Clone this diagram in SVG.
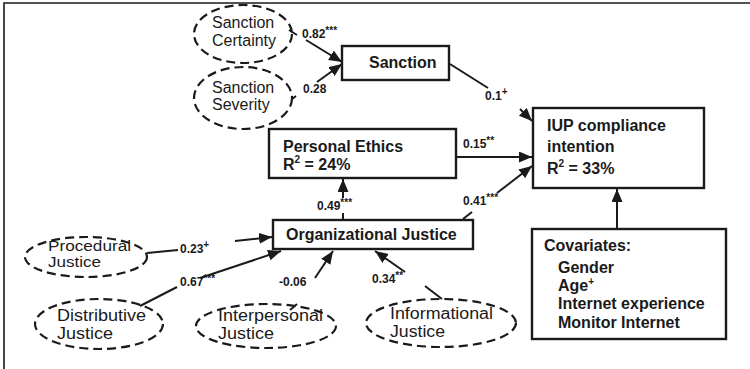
<svg xmlns="http://www.w3.org/2000/svg" width="750" height="369" viewBox="0 0 750 369">
<style>
.box{fill:#fff;stroke:#1a1a1a;stroke-width:2.4}
.ell{fill:none;stroke:#1a1a1a;stroke-width:2.2;stroke-dasharray:9 5}
.bt{font-family:"Liberation Sans",Arial,sans-serif;font-weight:bold;font-size:16px;fill:#1a1a1a}
.rt{font-family:"Liberation Sans",Arial,sans-serif;font-size:16px;fill:#1a1a1a}
.lb{font-family:"Liberation Sans",Arial,sans-serif;font-weight:bold;font-size:12px;fill:#1a1a1a}
.sup{font-size:10px}
.ln{fill:none;stroke:#1a1a1a;stroke-width:2}
.frame{fill:none;stroke:#1a1a1a;stroke-width:1.6}
</style>
<defs>
<marker id="ah" markerUnits="userSpaceOnUse" markerWidth="14" markerHeight="12" refX="13" refY="5.5" orient="auto">
<path d="M0,0 L13,5.5 L0,11 z" fill="#1a1a1a"/>
</marker>
</defs>
<rect width="750" height="369" fill="#fff"/>
<path class="frame" d="M4,369 V3 H750"/>

<g id="connectors">
<path class="ln" d="M289,30 L297,35"/>
<path class="ln" d="M306,40 L342,62" marker-end="url(#ah)"/>
<path class="ln" d="M292,99 L296,96"/>
<path class="ln" d="M317,82 L342,64" marker-end="url(#ah)"/>
<path class="ln" d="M450,64 L488,88"/>
<path class="ln" d="M520,109 L532,121" marker-end="url(#ah)"/>
<path class="ln" d="M456,157 L532,157" marker-end="url(#ah)"/>
<path class="ln" d="M343,219 L343,213"/>
<path class="ln" d="M343,198 L343,179" marker-end="url(#ah)"/>
<path class="ln" d="M463,219 L472,212"/>
<path class="ln" d="M497,193 L532,166" marker-end="url(#ah)"/>
<path class="ln" d="M147,253 L178,250"/>
<path class="ln" d="M235,241 L272,237" marker-end="url(#ah)"/>
<path class="ln" d="M140,306 L177,287"/>
<path class="ln" d="M200,278 L281,251" marker-end="url(#ah)"/>
<path class="ln" d="M290,310 L297,304"/>
<path class="ln" d="M315,278 L333,251" marker-end="url(#ah)"/>
<path class="ln" d="M442,299 L425,286"/>
<path class="ln" d="M405,272 L375,251" marker-end="url(#ah)"/>
<path class="ln" d="M617,229 L617,189" marker-end="url(#ah)"/>
<text class="lb" x="302" y="38">0.82<tspan class="sup" dy="-4">***</tspan></text>
<text class="lb" x="303" y="93">0.28</text>
<text class="lb" x="485" y="100">0.1<tspan class="sup" dy="-5">+</tspan></text>
<text class="lb" x="463" y="148">0.15<tspan class="sup" dy="-4">**</tspan></text>
<text class="lb" x="317" y="210">0.49<tspan class="sup" dy="-4">***</tspan></text>
<text class="lb" x="463" y="205">0.41<tspan class="sup" dy="-4">***</tspan></text>
<text class="lb" x="180" y="253">0.23<tspan class="sup" dy="-5">+</tspan></text>
<text class="lb" x="180" y="286">0.67<tspan class="sup" dy="-4">***</tspan></text>
<text class="lb" x="279" y="286">-0.06</text>
<text class="lb" x="372" y="283">0.34<tspan class="sup" dy="-4">**</tspan></text>
</g>

<g id="sanction-certainty">
<ellipse class="ell" cx="243" cy="34" rx="49" ry="29"/>
<text class="rt" x="212" y="28">Sanction</text>
<text class="rt" x="212" y="46">Certainty</text>
</g>
<g id="sanction-severity">
<ellipse class="ell" cx="243" cy="98" rx="49" ry="31"/>
<text class="rt" x="212" y="93">Sanction</text>
<text class="rt" x="212" y="110">Severity</text>
</g>
<g id="sanction">
<rect class="box" x="342" y="46" width="107" height="34"/>
<text class="bt" x="369" y="68">Sanction</text>
</g>
<g id="iup">
<rect class="box" x="533" y="108" width="171" height="80"/>
<text class="bt" x="547" y="131">IUP compliance</text>
<text class="bt" x="547" y="152">intention</text>
<text class="bt" x="547" y="174">R<tspan class="sup" dy="-7">2</tspan><tspan dy="7"> = 33%</tspan></text>
</g>
<g id="personal-ethics">
<rect class="box" x="269" y="129" width="187" height="49"/>
<text class="bt" x="283" y="152">Personal Ethics</text>
<text class="bt" x="283" y="170">R<tspan class="sup" dy="-7">2</tspan><tspan dy="7"> = 24%</tspan></text>
</g>
<g id="organizational-justice">
<rect class="box" x="273" y="220" width="200" height="29"/>
<text class="bt" x="286" y="240">Organizational Justice</text>
</g>
<g id="procedural-justice">
<ellipse class="ell" cx="86" cy="257" rx="61" ry="20"/>
<text class="rt" style="font-size:14px" x="48" y="251" textLength="83" lengthAdjust="spacingAndGlyphs">Procedural</text>
<text class="rt" style="font-size:14px" x="48" y="267" textLength="53" lengthAdjust="spacingAndGlyphs">Justice</text>
</g>
<g id="distributive-justice">
<ellipse class="ell" cx="99" cy="324" rx="64" ry="25"/>
<text class="rt" x="57" y="321" textLength="89" lengthAdjust="spacingAndGlyphs">Distributive</text>
<text class="rt" x="57" y="339" textLength="56" lengthAdjust="spacingAndGlyphs">Justice</text>
</g>
<g id="interpersonal-justice">
<ellipse class="ell" cx="266" cy="326" rx="70" ry="22"/>
<text class="rt" x="218" y="321" textLength="105" lengthAdjust="spacingAndGlyphs">Interpersonal</text>
<text class="rt" x="218" y="339" textLength="56" lengthAdjust="spacingAndGlyphs">Justice</text>
</g>
<g id="informational-justice">
<ellipse class="ell" cx="441" cy="323" rx="75" ry="24"/>
<text class="rt" x="390" y="319" textLength="103" lengthAdjust="spacingAndGlyphs">Informational</text>
<text class="rt" x="390" y="337" textLength="55" lengthAdjust="spacingAndGlyphs">Justice</text>
</g>
<g id="covariates">
<rect class="box" x="532" y="229" width="194" height="110"/>
<text class="bt" x="544" y="251">Covariates:</text>
<text class="bt" x="558" y="273">Gender</text>
<text class="bt" x="558" y="291">Age<tspan class="sup" dy="-6">+</tspan></text>
<text class="bt" x="558" y="309">Internet experience</text>
<text class="bt" x="558" y="328">Monitor Internet</text>
</g>
</svg>
